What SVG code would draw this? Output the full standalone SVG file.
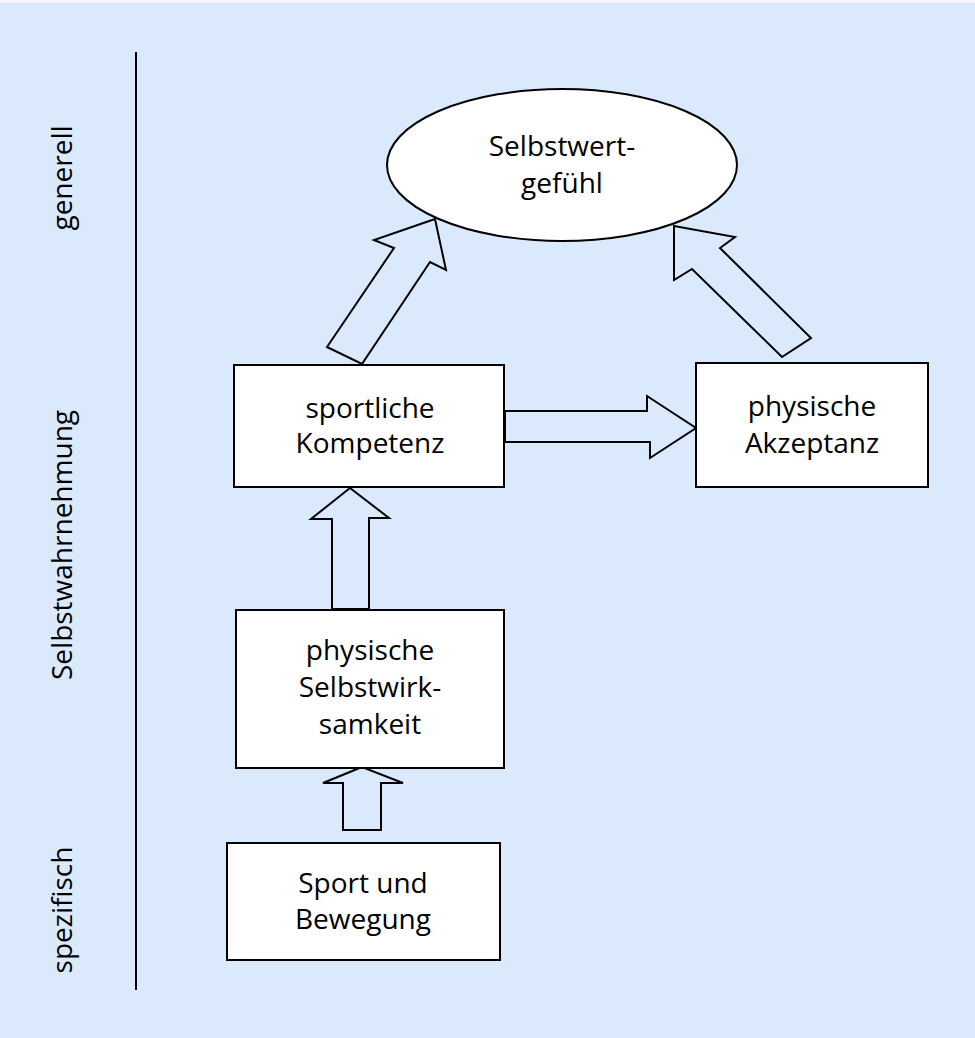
<svg xmlns="http://www.w3.org/2000/svg" width="975" height="1038" viewBox="0 0 975 1038">
<style>
.bx{fill:#fff;stroke:#000;stroke-width:2}
.ar{fill:#dae9fb;stroke:#000;stroke-width:2;stroke-linejoin:miter}
.t{font-family:"Open Sans","Liberation Sans",sans-serif;font-size:28px;fill:#000;text-anchor:middle}
</style>
<rect x="0" y="0" width="975" height="1038" fill="#f4f6f8"/>
<rect x="0" y="3" width="975" height="1035" fill="#dae9fb"/>
<g id="axis">
<line x1="136" y1="52" x2="136" y2="990" stroke="#000" stroke-width="2"/>
<text class="t" transform="translate(72,178) rotate(-90)">generell</text>
<text class="t" transform="translate(72,545) rotate(-90)">Selbstwahrnehmung</text>
<text class="t" transform="translate(72,910) rotate(-90)">spezifisch</text>
</g>
<g id="connectors">
<polygon class="ar" points="435,219 374,240 394,248 327,347 362,364 430,262 446,270"/>
<polygon class="ar" points="674,226 735,237 720,248 811,338 782,357 692,269 674,280"/>
<polygon class="ar" points="505,411 647,411 647,396 696,428 650,458 650,442 505,442"/>
<polygon class="ar" points="350,488 311,519 332,519 332,609 369,609 369,518 389,518"/>
<polygon class="ar" points="362,767 323,783 343,783 343,830 381,830 381,783 403,783"/>
</g>
<g id="selbstwert">
<ellipse class="bx" cx="562" cy="165" rx="175" ry="76"/>
<text class="t" x="562" y="156">Selbstwert-</text>
<text class="t" x="562" y="193">gefühl</text>
</g>
<g id="kompetenz">
<rect class="bx" x="234" y="365" width="270" height="122"/>
<text class="t" x="370" y="418">sportliche</text>
<text class="t" x="370" y="453">Kompetenz</text>
</g>
<g id="akzeptanz">
<rect class="bx" x="696" y="363" width="232" height="124"/>
<text class="t" x="812" y="416">physische</text>
<text class="t" x="812" y="453">Akzeptanz</text>
</g>
<g id="selbstwirksamkeit">
<rect class="bx" x="236" y="610" width="268" height="158"/>
<text class="t" x="370" y="660">physische</text>
<text class="t" x="370" y="697">Selbstwirk-</text>
<text class="t" x="370" y="734">samkeit</text>
</g>
<g id="sport">
<rect class="bx" x="227" y="843" width="273" height="117"/>
<text class="t" x="363" y="893">Sport und</text>
<text class="t" x="363" y="929">Bewegung</text>
</g>
</svg>
